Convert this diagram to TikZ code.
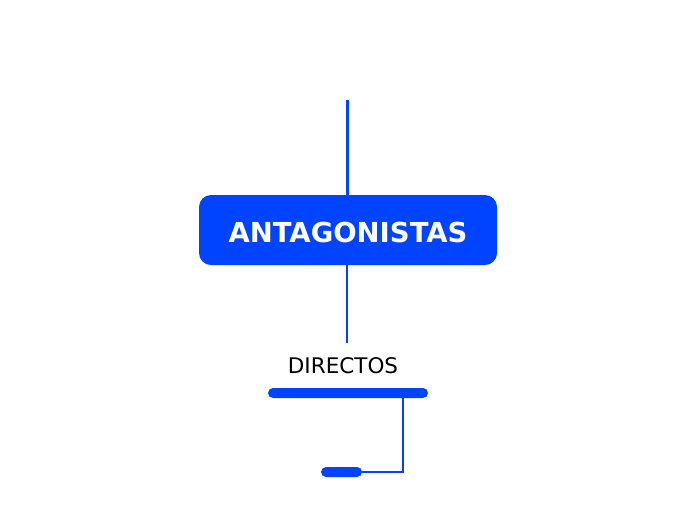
\documentclass[tikz,border=0pt]{standalone}
\usepackage{fontspec}
\setmainfont{DejaVu Sans}
\definecolor{mmblue}{RGB}{0,68,255}
\begin{document}
\begin{tikzpicture}[x=1pt,y=-1pt]

  \useasboundingbox (0,0) rectangle (696,520);

  \node (main) at (348,230) [rectangle,rounded corners=12pt,fill=mmblue,minimum width=298pt,minimum height=70pt,inner sep=0]{};
  \node (title) at (348,232) [inner sep=0]{\fontsize{27.5}{30}\selectfont\bfseries\color{white}ANTAGONISTAS};
  \coordinate (top) at (347,100);

  \node (dir) at (343,366) [rectangle,inner sep=0]{\fontsize{21.5}{24}\selectfont DIRECTOS};
  \node (bar) at (348,393) [rectangle,rounded corners=5pt,fill=mmblue,minimum width=160pt,minimum height=10pt,inner sep=0]{};
  \node (leaf) at (341.5,472) [rectangle,rounded corners=5pt,fill=mmblue,minimum width=41pt,minimum height=10pt,inner sep=0]{};
  \coordinate (knee) at (403,472);
  \coordinate (dirtop) at (347,343);

  \draw[mmblue,line width=3pt] (top) -- (main.north -| top);
  \draw[mmblue,line width=1.5pt] (main.south -| top) -- (dirtop);
  \draw[mmblue,line width=1.5pt] (bar.south -| knee) |- (leaf.east);

\end{tikzpicture}
\end{document}
